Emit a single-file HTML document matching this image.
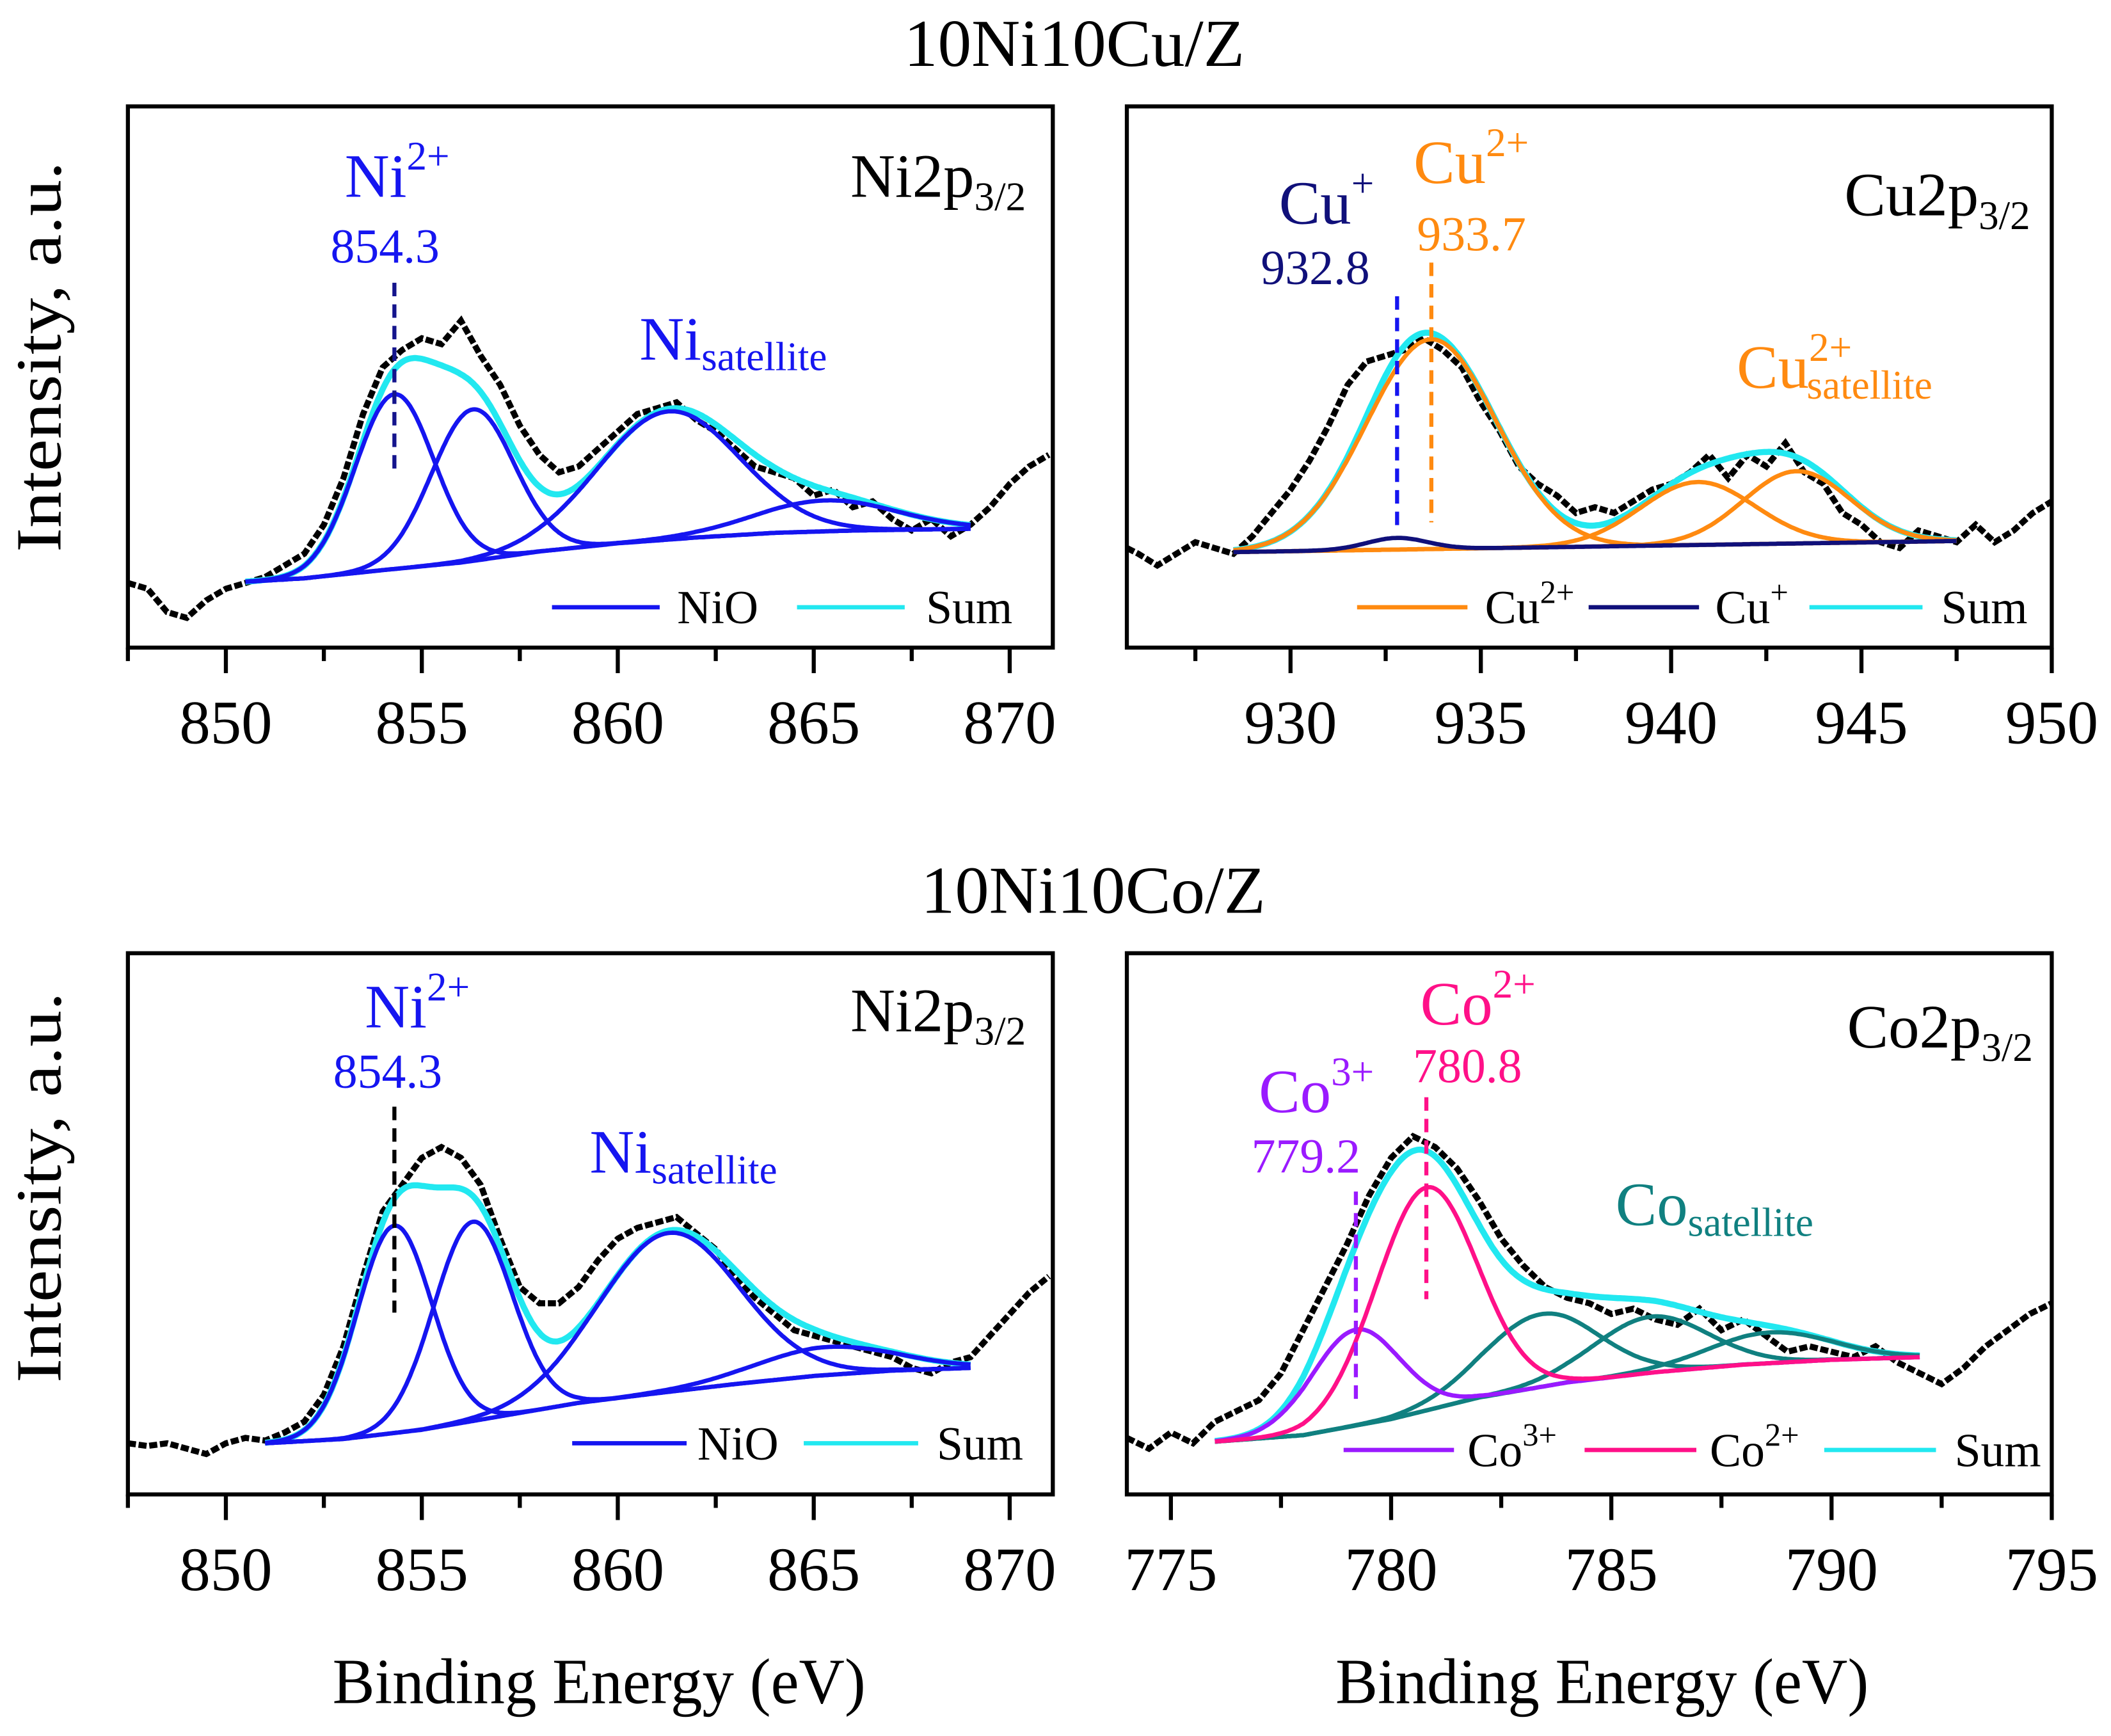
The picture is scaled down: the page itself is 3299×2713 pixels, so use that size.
<!DOCTYPE html>
<html><head><meta charset="utf-8"><style>
html,body{margin:0;padding:0;background:#fff}
svg{display:block}
text{font-family:"Liberation Serif",serif}
</style></head><body>
<svg id="fig" width="3299" height="2713" viewBox="0 0 1568 1289.4" xmlns="http://www.w3.org/2000/svg">
<text x="798" y="49" font-size="50" text-anchor="middle" textLength="253" lengthAdjust="spacingAndGlyphs">10Ni10Cu/Z</text>
<text x="812" y="678" font-size="50" text-anchor="middle" textLength="256" lengthAdjust="spacingAndGlyphs">10Ni10Co/Z</text>
<text transform="translate(45,265) rotate(-90)" font-size="48" text-anchor="middle" textLength="290" lengthAdjust="spacingAndGlyphs">Intensity, a.u.</text>
<text transform="translate(45,882) rotate(-90)" font-size="48" text-anchor="middle" textLength="290" lengthAdjust="spacingAndGlyphs">Intensity, a.u.</text>
<text x="445" y="1265" font-size="48" text-anchor="middle" textLength="396" lengthAdjust="spacingAndGlyphs">Binding Energy (eV)</text>
<text x="1190" y="1265" font-size="48" text-anchor="middle" textLength="396" lengthAdjust="spacingAndGlyphs">Binding Energy (eV)</text>
<g id="layer"></g>
</svg>
<script>
// ---- data: raw spectra (intensity, a.u.) ----
const niCuE = [847.5,848,848.5,849,849.5,850,850.5,851,851.5,852,852.5,853,853.5,854,854.5,855,855.5,856,856.5,857,857.5,858,858.5,859,859.5,860,860.5,861,861.5,862,862.5,863,863.5,864,864.5,865,865.5,866,866.5,867,867.5,868,868.5,869,869.5,870,870.5,871];
const niCuRaw = [18,17,13,12,15,17,18,19,21,23,28,36,47,55,58,60,59,63,57,52,45,40,37,38,41,44,47,48,49,46,44,41,38,37,36,33,34,31,32,29,27,29,26,28,31,35,38,40];
const niCuBgE = [850.5,852,854,856,858,860,862,864,866,869];
const niCuBg = [18.2,18.8,20.2,21.5,23.4,24.8,25.8,26.6,27,27.3];
const niCuCenters = [854.3,856.3,861.3,865.3];
const niCuAmps = [30,26,22,5.3];
const niCuSig = [1.0,1.05,1.8,1.8];

const cuE = [925.7,926,926.5,927,927.5,928,928.5,929,929.5,930,930.5,931,931.5,932,932.5,933,933.5,934,934.5,935,935.5,936,936.5,937,937.5,938,938.5,939,939.5,940,940.5,941,941.5,942,942.5,943,943.5,944,944.5,945,945.5,946,946.5,947,947.5,948,948.5,949,949.5,950];
const cuRaw = [24,23,21,23,25,24,23,26,30,34,39,45,52,56,57,58,60,58,55,49,44,38,35,33,30,31,30,32,34,35,37,40,36,40,38,42,37,35,30,28,25,24,27,26,25,28,25,27,30,32];
const cuBgE = [928.5,947.5];
const cuBg = [23.3,25.2];
const cu2Centers = [933.7,940.7,943.3];
const cu2Amps = [36,10.8,12.4];
const cu2Sig = [1.7,1.5,1.4];
const cu1Centers = [932.8];
const cu1Amps = [2];
const cu1Sig = [0.8];

const niCoE = niCuE;
const niCoRaw = [9,8.5,9,8,7,9,10,9.5,11,13,18,27,40,52,57,62,64,62,57,47,38,35,35,38,43,47,49,50,51,48,45,40,36,33,30,29,28,27,26,25,23,22,24,25,29,33,37,40];
const niCoBgE = [851,853,855,857,859,861,863,865,867,869];
const niCoBg = [9,9.8,11.5,14,16.5,18.3,20,21.5,22.5,23];
const niCoCenters = [854.3,856.3,861.3,865.3];
const niCoAmps = [38.5,37,29.5,5.2];
const niCoSig = [0.95,1.0,1.8,1.8];

const coE = [774,774.5,775,775.5,776,776.5,777,777.5,778,778.5,779,779.5,780,780.5,781,781.5,782,782.5,783,783.5,784,784.5,785,785.5,786,786.5,787,787.5,788,788.5,789,789.5,790,790.5,791,791.5,792,792.5,793,793.5,794,794.5,795];
const coRaw = [10,8,11,9,13,15,17,22,30,38,46,55,62,66,64,60,54,47,42,38,36,35,33,34,32,31,34,30,32,29,26,27,26,25,27,24,22,20,23,27,30,33,35];
const coBgE = [776,778,780,782,784,786,788,790,792];
const coBg = [9.3,10.5,13.5,17.5,20.3,22.2,23.6,24.5,25];
const co3Centers = [779.2]; const co3Amps = [17.8]; const co3Sig = [1.0];
const co2Centers = [780.8]; const co2Amps = [41.4]; const co2Sig = [1.15];
const coSatCenters = [783.4,785.9,788.6]; const coSatAmps = [13.5,10.4,5.7]; const coSatSig = [1.3,1.3,1.4];

const NS='http://www.w3.org/2000/svg';
const layer=document.getElementById('layer');
function mk(tag,attrs,parent){const e=document.createElementNS(NS,tag);for(const k in attrs)e.setAttribute(k,attrs[k]);(parent||layer).appendChild(e);return e;}
function lin(d0,d1,r0,r1){return v=>r0+(v-d0)/(d1-d0)*(r1-r0);}
function interp(xs,ys,x){if(x<=xs[0])return ys[0];for(let i=1;i<xs.length;i++){if(x<=xs[i]){const t=(x-xs[i-1])/(xs[i]-xs[i-1]);return ys[i-1]+t*(ys[i]-ys[i-1]);}}return ys[ys.length-1];}
function gauss(x,c,a,s){return a*Math.exp(-((x-c)*(x-c))/(2*s*s));}

function panel(o){
  const g=mk('g',{});
  
  
  const X=lin(o.xd[0],o.xd[1],o.x0,o.x1), Y=lin(o.yd[0],o.yd[1],o.y1,o.y0);
  const tk=mk('g',{},g);
  
  
  for(let v=Math.ceil(o.xd[0]/2.5)*2.5; v<=o.xd[1]+1e-6; v+=2.5){
    const major=Math.abs(v/5-Math.round(v/5))<1e-6;
    const t=mk('line',{x1:X(v),x2:X(v),y1:o.y1,y2:o.y1+(major?19:10),stroke:'#000','stroke-width':3},tk);
    
    
    if(major){const l=mk('text',{x:X(v),y:o.y1+71,'font-size':46,'text-anchor':'middle'},tk);l.textContent=v;
      
      }
  }
  const bgF=x=>interp(o.bgE,o.bg,x);
  const lo=o.bgE[0], hi=o.bgE[o.bgE.length-1];
  function curve(fn,color,w,name){
    let d='';for(let x=lo;x<=hi+1e-6;x+=0.05){d+=(d?'L':'M')+X(x).toFixed(1)+','+Y(fn(x)).toFixed(1);}
    const p=mk('path',{d:d,fill:'none',stroke:color,'stroke-width':w,'stroke-linejoin':'round'},g);
    
    
  }
  let rd='';o.E.forEach((e,i)=>{rd+=(i?'L':'M')+X(e).toFixed(1)+','+Y(o.raw[i]).toFixed(1);});
  const raw=mk('path',{d:rd,fill:'none',stroke:'#000','stroke-width':4.5,'stroke-dasharray':'6,2'},g);
  
  
  curve(x=>{let s=bgF(x);o.groups.forEach(gr=>gr.c.forEach((c,i)=>s+=gauss(x,c,gr.a[i],gr.s[i])));return s;},'#22e8f0',4.5,'sum-fit');
  o.groups.forEach(gr=>gr.c.forEach((c,i)=>curve(x=>bgF(x)+gauss(x,c,gr.a[i],gr.s[i]),gr.color,3.2,gr.name)));
  const f=mk('rect',{x:o.x0,y:o.y0,width:o.x1-o.x0,height:o.y1-o.y0,fill:'none',stroke:'#000','stroke-width':3},g);
  
  
  (o.marks||[]).forEach(m=>{const l=mk('line',{x1:X(m.e),x2:X(m.e),y1:m.ya,y2:m.yb,stroke:m.color,'stroke-width':3,'stroke-dasharray':'10,6'},g);
    
    });
  g.insertAdjacentHTML('beforeend',o.html);
}

panel({name:'panel-ni-cu',xd:[847.5,871.1],x0:95,x1:782,y0:79,y1:481,yd:[6.9,99.8],E:niCuE,raw:niCuRaw,bgE:niCuBgE,bg:niCuBg,
 groups:[{c:niCuCenters,a:niCuAmps,s:niCuSig,color:'#1515f0',name:'nio-fit'}],
 marks:[{e:854.3,ya:210,yb:352,color:'#14148c'}],
 html:`<text x="295" y="146" font-size="46" fill="#1515f0" text-anchor="middle">Ni<tspan dy="-20" font-size="30">2+</tspan></text>
<text x="286" y="195" font-size="36" fill="#1515f0" text-anchor="middle">854.3</text>
<text x="475" y="267" font-size="46" fill="#1515f0">Ni<tspan dy="8" font-size="30">satellite</tspan></text>
<text x="762" y="146" font-size="46" text-anchor="end">Ni2p<tspan dy="10" font-size="30">3/2</tspan></text>
<line x1="410" x2="490" y1="451" y2="451" stroke="#1515f0" stroke-width="3.2"/>
<text x="503" y="463" font-size="35">NiO</text>
<line x1="592" x2="672" y1="451" y2="451" stroke="#22e8f0" stroke-width="3.2"/>
<text x="752" y="463" font-size="35" text-anchor="end">Sum</text>`});

panel({name:'panel-cu',xd:[925.7,950],x0:837,x1:1524,y0:79,y1:481,yd:[6.9,99.8],E:cuE,raw:cuRaw,bgE:cuBgE,bg:cuBg,
 groups:[{c:cu2Centers,a:cu2Amps,s:cu2Sig,color:'#ff8a10',name:'cu2-fit'},{c:cu1Centers,a:cu1Amps,s:cu1Sig,color:'#10107a',name:'cu1-fit'}],
 marks:[{e:932.8,ya:220,yb:393,color:'#1515f0'},{e:933.7,ya:195,yb:388,color:'#ff8a10'}],
 html:`<text x="950" y="166" font-size="46" fill="#10107a">Cu<tspan dy="-20" font-size="30">+</tspan></text>
<text x="977" y="211" font-size="36" fill="#10107a" text-anchor="middle">932.8</text>
<text x="1050" y="136" font-size="46" fill="#ff8a10">Cu<tspan dy="-20" font-size="30">2+</tspan></text>
<text x="1093" y="186" font-size="36" fill="#ff8a10" text-anchor="middle">933.7</text>
<text x="1290" y="288" font-size="46" fill="#ff8a10">Cu<tspan dy="-20" font-size="30">2+</tspan><tspan x="1342" dy="28" font-size="30">satellite</tspan></text>
<text x="1508" y="160" font-size="46" text-anchor="end">Cu2p<tspan dy="10" font-size="30">3/2</tspan></text>
<line x1="1008" x2="1090" y1="451" y2="451" stroke="#ff8a10" stroke-width="3.2"/>
<text x="1103" y="463" font-size="35">Cu<tspan dy="-15" font-size="24">2+</tspan></text>
<line x1="1180" x2="1262" y1="451" y2="451" stroke="#10107a" stroke-width="3.2"/>
<text x="1274" y="463" font-size="35">Cu<tspan dy="-15" font-size="24">+</tspan></text>
<line x1="1344" x2="1428" y1="451" y2="451" stroke="#22e8f0" stroke-width="3.2"/>
<text x="1506" y="463" font-size="35" text-anchor="end">Sum</text>`});

panel({name:'panel-ni-co',xd:[847.5,871.1],x0:95,x1:782,y0:708,y1:1110,yd:[-0.5,100],E:niCoE,raw:niCoRaw,bgE:niCoBgE,bg:niCoBg,
 groups:[{c:niCoCenters,a:niCoAmps,s:niCoSig,color:'#1515f0',name:'nio-fit'}],
 marks:[{e:854.3,ya:822,yb:975,color:'#000'}],
 html:`<text x="310" y="763" font-size="46" fill="#1515f0" text-anchor="middle">Ni<tspan dy="-20" font-size="30">2+</tspan></text>
<text x="288" y="808" font-size="36" fill="#1515f0" text-anchor="middle">854.3</text>
<text x="438" y="871" font-size="46" fill="#1515f0">Ni<tspan dy="8" font-size="30">satellite</tspan></text>
<text x="762" y="766" font-size="46" text-anchor="end">Ni2p<tspan dy="10" font-size="30">3/2</tspan></text>
<line x1="425" x2="510" y1="1072" y2="1072" stroke="#1515f0" stroke-width="3.2"/>
<text x="518" y="1084" font-size="35">NiO</text>
<line x1="597" x2="682" y1="1072" y2="1072" stroke="#22e8f0" stroke-width="3.2"/>
<text x="760" y="1084" font-size="35" text-anchor="end">Sum</text>`});

panel({name:'panel-co',xd:[774,795],x0:837,x1:1524,y0:708,y1:1110,yd:[-0.5,100],E:coE,raw:coRaw,bgE:coBgE,bg:coBg,
 groups:[{c:coSatCenters,a:coSatAmps,s:coSatSig,color:'#108080',name:'co-satellite-fit'},{c:co3Centers,a:co3Amps,s:co3Sig,color:'#9a1aff',name:'co3-fit'},{c:co2Centers,a:co2Amps,s:co2Sig,color:'#ff1088',name:'co2-fit'}],
 marks:[{e:779.2,ya:885,yb:1045,color:'#9a1aff'},{e:780.8,ya:815,yb:965,color:'#ff1088'}],
 html:`<text x="935" y="826" font-size="46" fill="#9a1aff">Co<tspan dy="-20" font-size="30">3+</tspan></text>
<text x="970" y="871" font-size="36" fill="#9a1aff" text-anchor="middle">779.2</text>
<text x="1055" y="761" font-size="46" fill="#ff1088">Co<tspan dy="-20" font-size="30">2+</tspan></text>
<text x="1090" y="804" font-size="36" fill="#ff1088" text-anchor="middle">780.8</text>
<text x="1200" y="910" font-size="46" fill="#108080">Co<tspan dy="8" font-size="30">satellite</tspan></text>
<text x="1510" y="778" font-size="46" text-anchor="end">Co2p<tspan dy="10" font-size="30">3/2</tspan></text>
<line x1="998" x2="1080" y1="1077" y2="1077" stroke="#9a1aff" stroke-width="3.2"/>
<text x="1090" y="1089" font-size="35">Co<tspan dy="-15" font-size="24">3+</tspan></text>
<line x1="1177" x2="1260" y1="1077" y2="1077" stroke="#ff1088" stroke-width="3.2"/>
<text x="1270" y="1089" font-size="35">Co<tspan dy="-15" font-size="24">2+</tspan></text>
<line x1="1355" x2="1438" y1="1077" y2="1077" stroke="#22e8f0" stroke-width="3.2"/>
<text x="1516" y="1089" font-size="35" text-anchor="end">Sum</text>`});
</script>
</body></html>
